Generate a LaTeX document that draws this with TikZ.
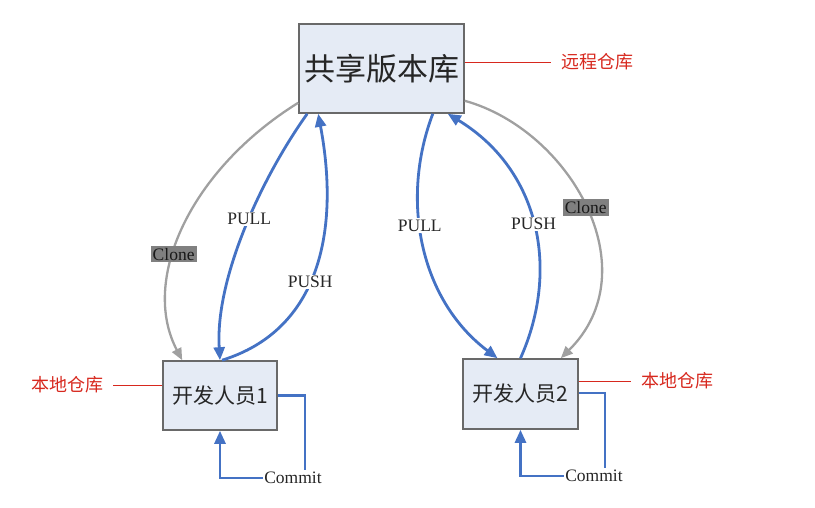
\documentclass[tikz,border=0pt]{standalone}
\usepackage{fontspec}
\setmainfont{Liberation Serif}
\newfontfamily\cjk{Noto Sans CJK SC}
\usetikzlibrary{arrows.meta}
\definecolor{flowblue}{RGB}{68,114,196}
\definecolor{clonegray}{RGB}{160,160,160}
\definecolor{boxfill}{RGB}{229,235,245}
\definecolor{boxline}{RGB}{105,105,105}
\definecolor{notered}{RGB}{215,40,30}
\definecolor{tagfill}{RGB}{128,128,128}
\tikzset{
  repobox/.style={draw=boxline, line width=1.6pt, fill=boxfill, inner sep=0pt},
  flow/.style={draw=flowblue, line width=2.8pt, -{Triangle[length=13pt,width=11pt]}},
  flowplain/.style={draw=flowblue, line width=2.8pt},
  cloneline/.style={draw=clonegray, line width=2.3pt, -{Triangle[length=12pt,width=10pt]}},
  tag/.style={font=\fontsize{17.5}{17.5}\selectfont, inner sep=1.5pt},
  flowlabel/.style={tag, fill=white, text=black!85},
  clonetag/.style={tag, fill=tagfill, text=black!90, inner sep=2pt},
  note/.style={font=\cjk\fontsize{18}{18}\selectfont, text=notered, inner sep=0pt},
  noteline/.style={draw=notered, line width=1pt}
}
\begin{document}
\begin{tikzpicture}[x=1pt,y=-1pt]
\useasboundingbox (0,0) rectangle (815,507);
% boxes
\node[repobox, minimum width=165pt, minimum height=89pt,
      font=\cjk\fontsize{31}{31}\selectfont, text=black!85] (repo) at (381.5,68.5) {共享版本库};
\node[repobox, minimum width=114pt, minimum height=69pt,
      font=\cjk\fontsize{21}{21}\selectfont, text=black!85] (b1) at (220,395.5) {开发人员1};
\node[repobox, minimum width=115pt, minimum height=70pt,
      font=\cjk\fontsize{21}{21}\selectfont, text=black!85] (b2) at (520.5,394) {开发人员2};
% notes
\node[note] (rn) at (597,62) {远程仓库};
\node[note] (ln) at (67,385) {本地仓库};
\node[note] (rrn) at (677,381) {本地仓库};
\draw[noteline] ([yshift=6.5pt]repo.east) -- ([xshift=-10pt]rn.west);
\draw[noteline] ([yshift=10.5pt]b1.west) -- ([xshift=10pt]ln.east);
\draw[noteline] ([yshift=13pt]b2.east) -- ([xshift=-10pt]rrn.west);
% clone
\draw[cloneline] ([yshift=11pt]repo.south west) .. controls (190,170) and (140,280) ..
  node[clonetag, pos=0.6] (cl1) {Clone} ([xshift=20pt]b1.north west);
\draw[cloneline] ([yshift=13pt]repo.south east) .. controls (570,130) and (650,270) ..
  node[clonetag, pos=0.5] (cl2) {Clone} ([xshift=-18pt]b2.north east);
% pull / push
\draw[flow] ([xshift=9pt]repo.south west) .. controls (260,180) and (215,280) ..
  node[flowlabel, pos=0.45] (pl1) {PULL} (b1.north);
\draw[flow] ([xshift=2pt]b1.north) .. controls (320,330) and (340,230) ..
  node[flowlabel, pos=0.45] (ps1) {PUSH} ([xshift=20pt]repo.south west);
\draw[flow] ([xshift=-32pt]repo.south east) .. controls (400,200) and (420,300) ..
  node[flowlabel, pos=0.42] (pl2) {PULL} ([xshift=-23pt]b2.north);
\draw[flow] (b2.north) .. controls (560,270) and (540,170) ..
  node[flowlabel, pos=0.5] (ps2) {PUSH} ([xshift=-17pt]repo.south east);
% commit
\node[flowlabel] (c1) at (293,478) {Commit};
\node[flowlabel] (c2) at (594,476) {Commit};
\draw[flowplain] (b1.east) -| ([xshift=12pt]c1.north);
\draw[flow] (c1.west) -| (b1.south);
\draw[flowplain] ([yshift=1pt]b2.east) -| ([xshift=11pt]c2.north);
\draw[flow] (c2.west) -| (b2.south);
\end{tikzpicture}
\end{document}
